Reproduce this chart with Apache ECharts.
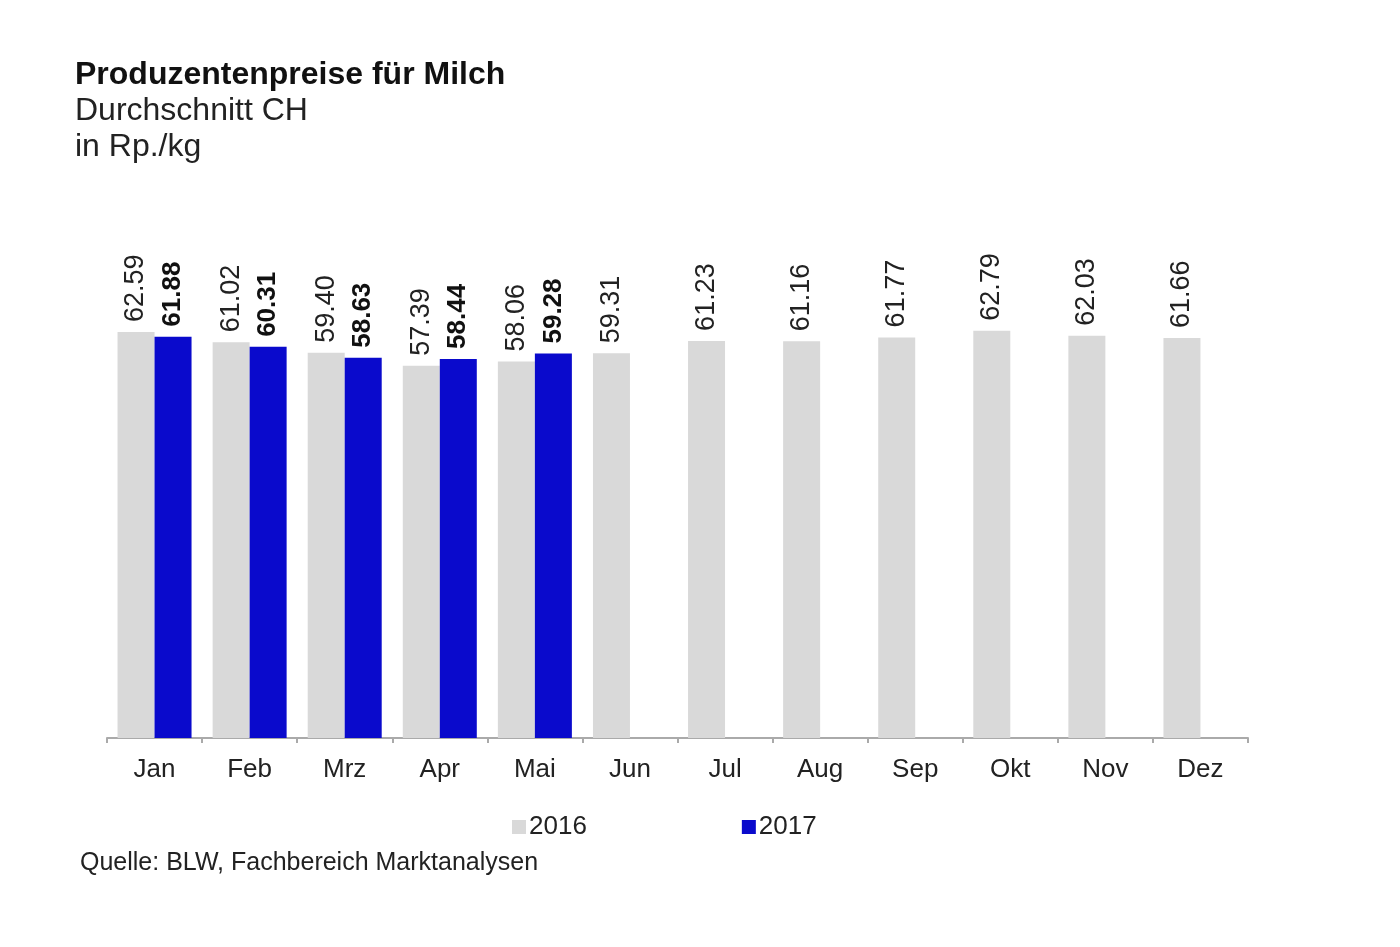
<!DOCTYPE html>
<html>
<head>
<meta charset="utf-8">
<script src="https://cdn.jsdelivr.net/npm/echarts@6/dist/echarts.min.js"></script>
<style>
    html, body { margin: 0; padding: 0; background: #fff; }
    #chart { width: 1400px; height: 947px; }
</style>
</head>
<body>
<div id="chart"></div>
<script>
// Monatswerte
const months = ['Jan', 'Feb', 'Mrz', 'Apr', 'Mai', 'Jun', 'Jul', 'Aug', 'Sep', 'Okt', 'Nov', 'Dez'];
const values2016 = [62.59, 61.02, 59.40, 57.39, 58.06, 59.31, 61.23, 61.16, 61.77, 62.79, 62.03, 61.66];
const values2017 = [61.88, 60.31, 58.63, 58.44, 59.28, null, null, null, null, null, null, null];

const grayColor = '#d9d9d9';
const blueColor = '#0a0acc';
const fontFamily = '"Liberation Sans", Arial, sans-serif';

var chart = echarts.init(document.getElementById('chart'));

var option = {
    backgroundColor: '#fff',
    animation: false,
    textStyle: { fontFamily: fontFamily },
    title: {
        text: 'Produzentenpreise für Milch',
        subtext: 'Durchschnitt CH\nin Rp./kg',
        left: 70,
        top: 54,
        itemGap: 2,
        textStyle: {
            fontSize: 32,
            fontWeight: 'bold',
            color: '#111',
            fontFamily: fontFamily
        },
        subtextStyle: {
            fontSize: 32,
            color: '#222',
            lineHeight: 36,
            fontFamily: fontFamily
        }
    },
    legend: {
        left: 507,
        top: 809,
        itemGap: 155,
        itemWidth: 14,
        itemHeight: 14,
        icon: 'rect',
        textStyle: { fontSize: 26, color: '#222', padding: [0, 0, 0, -2] },
        data: ['2016', '2017']
    },
    grid: {
        left: 107,
        right: 152,
        top: 284,
        bottom: 209
    },
    xAxis: {
        type: 'category',
        data: months,
        axisLine: { lineStyle: { color: '#aaa', width: 2 } },
        axisTick: { show: true, length: 5, lineStyle: { color: '#aaa', width: 2 } },
        axisLabel: { fontSize: 26, color: '#222', margin: 19, interval: 0 }
    },
    yAxis: {
        type: 'value',
        min: 0,
        max: 70,
        show: false,
        splitLine: { show: false }
    },
    series: [
        {
            name: '2016',
            type: 'bar',
            data: values2016,
            barWidth: 37,
            barGap: '0%',
            itemStyle: { color: grayColor },
            label: {
                show: true,
                position: 'top',
                rotate: 90,
                align: 'left',
                verticalAlign: 'middle',
                distance: 10,
                fontSize: 27,
                color: '#222',
                formatter: p => p.value.toFixed(2)
            }
        },
        {
            name: '2017',
            type: 'bar',
            data: values2017,
            barWidth: 37,
            barGap: '0%',
            itemStyle: { color: blueColor },
            label: {
                show: true,
                position: 'top',
                rotate: 90,
                align: 'left',
                verticalAlign: 'middle',
                distance: 10,
                fontSize: 26,
                fontWeight: 'bold',
                color: '#111',
                formatter: p => p.value == null ? '' : p.value.toFixed(2)
            }
        }
    ],
    graphic: [{
        type: 'text',
        left: 80,
        top: 851,
        style: {
            text: 'Quelle: BLW, Fachbereich Marktanalysen',
            fontSize: 25,
            fill: '#222',
            fontFamily: fontFamily
        }
    }]
};

chart.setOption(option);
window.onresize = function () {
    chart.resize();
};
</script>
</body>
</html>
